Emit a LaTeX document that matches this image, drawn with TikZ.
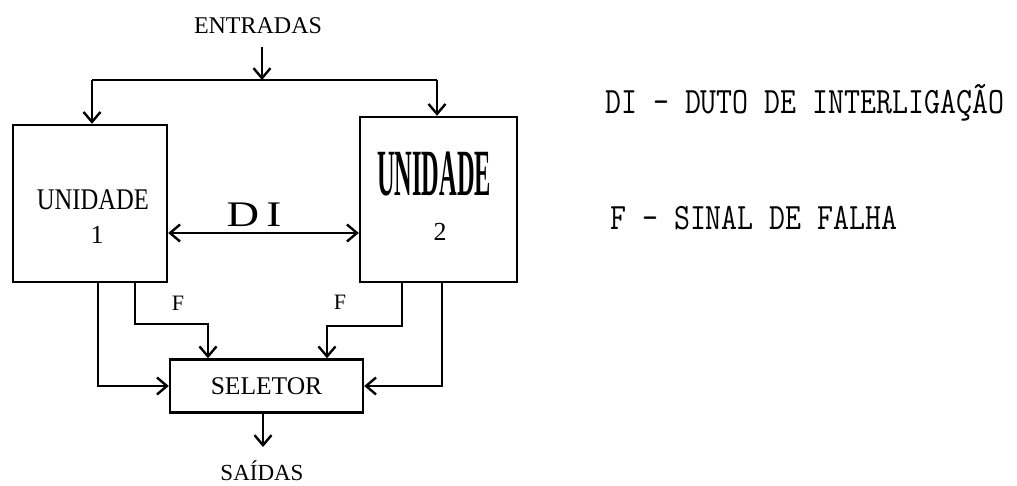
\documentclass[tikz,border=0pt]{standalone}
\usepackage{fontspec}
\usepackage{graphicx}
\setmainfont{Liberation Serif}
\usetikzlibrary{arrows.meta}
\begin{document}
\begin{tikzpicture}[x=1pt,y=-1pt,
  ln/.style={line width=2.4pt, line join=miter},
  arr/.style={ln, -{Straight Barb[length=10pt,width=17pt]}},
  arrb/.style={ln, {Straight Barb[length=10pt,width=17pt]}-{Straight Barb[length=10pt,width=17pt]}},
  box/.style={draw, line width=2.4pt, inner sep=0pt},
  lab/.style={inner sep=0pt, font=\fontsize{24}{24}\selectfont},
  leg/.style={inner sep=0pt, anchor=west, font=\ttfamily\fontsize{31}{31}\selectfont}]
\useasboundingbox (0,0) rectangle (1017,486);
% boxes
\node[box, minimum width=154pt, minimum height=157pt] (u1) at (90,203.5) {};
\node[box, minimum width=157pt, minimum height=165pt] (u2) at (438.5,199.5) {};
\node[box, minimum width=193pt, minimum height=53pt, font=\fontsize{25.5}{25.5}\selectfont] (sel) at (266.5,386) {SELETOR};
% texts
\node[lab] (ent) at (258,26) {ENTRADAS};
\node[lab, font=\fontsize{23}{23}\selectfont] (sai) at (262,471) {SAÍDAS};
\node[lab, font=\fontsize{22}{22}\selectfont] (f1) at (178,303) {F};
\node[lab, font=\fontsize{22}{22}\selectfont] (f2) at (340,302) {F};
\node[lab] (u1t) at (93,200) {\scalebox{0.82}[1]{\fontsize{30}{30}\selectfont UNIDADE}};
\node[lab, font=\fontsize{26}{26}\selectfont] (u1n) at (97,235) {1};
\node[lab] (u2t) at (434,174) {\scalebox{0.37}[1]{\fontsize{66}{66}\selectfont\bfseries UNIDADE}};
\node[lab, font=\fontsize{26}{26}\selectfont] (u2n) at (440,232) {2};
\node[lab] (dit) at (254,215) {\scalebox{1.25}[1]{\fontsize{36}{36}\selectfont D\,I}};
% legend
\node[leg] (leg1) at (605,103) {\scalebox{1}[1.2]{DI - DUTO DE INTERLIGAÇÃO}};
\node[leg] (leg2) at (610,218) {\scalebox{1}[1.2]{F - SINAL DE FALHA}};
% helper coordinates
\coordinate (ein) at (262,47);
\coordinate (cM) at (262,80);
\coordinate (cL) at (92,80);
\coordinate (cR) at (437,80);
\coordinate (dy) at (0,233);
\coordinate (xa) at (98,0);
\coordinate (xf1) at (135,0);
\coordinate (xs1) at (208,0);
\coordinate (xs2) at (327,0);
\coordinate (xf2) at (402,0);
\coordinate (xb) at (442,0);
\coordinate (xo) at (263,0);
\coordinate (yf1) at (0,324);
\coordinate (yf2) at (0,326);
\coordinate (yout) at (0,447);
% connectors
\draw[arr] (ein) -- (cM);
\draw[ln] (cL) -- (cR);
\draw[arr] (cL) -- (cL |- u1.north);
\draw[arr] (cR) -- (cR |- u2.north);
\draw[arrb] (u1.east |- dy) -- (u2.west |- dy);
\draw[arr] (u1.south -| xa) |- (sel.west);
\draw[arr] (u1.south -| xf1) |- (xs1 |- yf1) -- (xs1 |- sel.north);
\draw[arr] (u2.south -| xf2) |- (xs2 |- yf2) -- (xs2 |- sel.north);
\draw[arr] (u2.south -| xb) |- (sel.east);
\draw[arr] (sel.south -| xo) -- (xo |- yout);
\end{tikzpicture}
\end{document}
